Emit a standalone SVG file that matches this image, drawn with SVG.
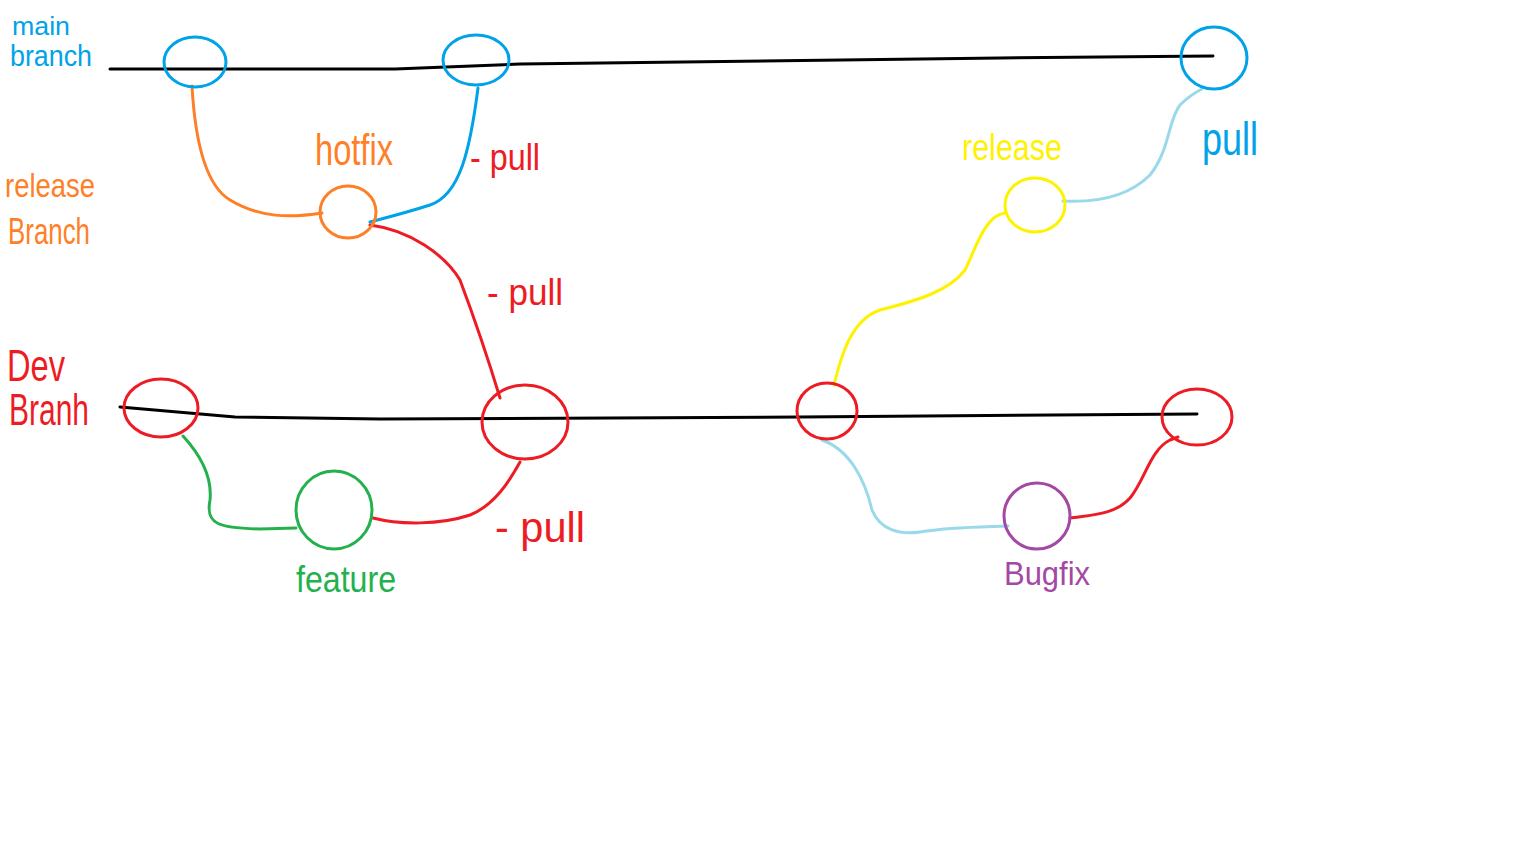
<svg xmlns="http://www.w3.org/2000/svg" width="1536" height="864" viewBox="0 0 1536 864">
<style>
.l{fill:none;stroke-width:3;stroke-linecap:round;stroke-linejoin:round}
.k{stroke:#000}
.b{stroke:#00a2e8}.o{stroke:#ff7f27}.r{stroke:#ed1c24}.g{stroke:#22b14c}.y{stroke:#fff200}.lb{stroke:#99d9ea}.p{stroke:#a349a4}
text{font-family:"Liberation Sans Narrow","Liberation Sans",sans-serif}
.tb{fill:#00a2e8}.to{fill:#ff7f27}.tr{fill:#ed1c24}.tg{fill:#22b14c}.ty{fill:#fff200}.tp{fill:#a349a4}
</style>
<rect width="1536" height="864" fill="#fff"/>
<g id="branch-lines">
<path class="l k" d="M110,69 L395,69 L520,64 L1000,58 L1213,56"/>
<path class="l k" d="M120,407 L235,417 L380,419 L800,417 L1197,414"/>
</g>
<g id="connectors">
<path class="l o" d="M192,86 C195,140 205,185 230,200 C260,218 290,218 322,213"/>
<path class="l b" d="M478,88 C470,150 460,195 430,205 C405,213 385,218 370,222"/>
<path class="l r" d="M370,225 C410,230 445,255 460,280 C475,320 490,365 500,398"/>
<path class="l g" d="M183,436 C205,460 212,480 210,500 C205,525 220,528 260,529 L296,528"/>
<path class="l r" d="M373,518 C400,525 440,525 470,515 C495,505 510,480 520,462"/>
<path class="l y" d="M834,385 C840,360 850,320 880,310 C920,300 950,290 965,270 C975,250 985,215 1005,213"/>
<path class="l lb" d="M1063,201 C1100,203 1130,195 1150,175 C1170,150 1168,120 1180,105 C1190,95 1198,91 1202,89"/>
<path class="l lb" d="M822,440 C850,450 865,480 872,510 C880,530 900,535 920,532 C950,527 980,527 1008,526"/>
<path class="l r" d="M1070,518 C1090,515 1115,515 1130,498 C1145,480 1150,450 1170,440 L1178,437"/>
</g>
<g id="main-1"><ellipse class="l b" cx="195" cy="62" rx="31" ry="25"/></g>
<g id="main-2"><ellipse class="l b" cx="476" cy="60" rx="33" ry="25"/></g>
<g id="main-3"><ellipse class="l b" cx="1214" cy="58" rx="33" ry="31"/></g>
<g id="hotfix"><ellipse class="l o" cx="348" cy="212" rx="28" ry="26"/></g>
<g id="dev-1"><ellipse class="l r" cx="161" cy="408" rx="37" ry="29"/></g>
<g id="dev-2"><ellipse class="l r" cx="525" cy="422" rx="43" ry="37"/></g>
<g id="dev-3"><ellipse class="l r" cx="827" cy="411" rx="30" ry="28"/></g>
<g id="dev-4"><ellipse class="l r" cx="1197" cy="417" rx="35" ry="28"/></g>
<g id="feature"><ellipse class="l g" cx="334" cy="510" rx="38" ry="39"/></g>
<g id="release"><ellipse class="l y" cx="1035" cy="205" rx="30" ry="27"/></g>
<g id="bugfix"><ellipse class="l p" cx="1037" cy="516" rx="33" ry="33"/></g>
<g id="labels">
<text class="tb" x="12" y="35" font-size="26" textLength="58" lengthAdjust="spacingAndGlyphs">main</text>
<text class="tb" x="10" y="66" font-size="30" textLength="82" lengthAdjust="spacingAndGlyphs">branch</text>
<text class="to" x="5" y="197" font-size="34" textLength="90" lengthAdjust="spacingAndGlyphs">release</text>
<text class="to" x="8" y="244" font-size="36" textLength="82" lengthAdjust="spacingAndGlyphs">Branch</text>
<text class="to" x="315" y="165" font-size="44" textLength="78" lengthAdjust="spacingAndGlyphs">hotfix</text>
<text class="tr" x="470" y="170" font-size="36" textLength="70" lengthAdjust="spacingAndGlyphs">- pull</text>
<text class="tr" x="487" y="305" font-size="36" textLength="76" lengthAdjust="spacingAndGlyphs">- pull</text>
<text class="tr" x="7" y="381" font-size="44" textLength="58" lengthAdjust="spacingAndGlyphs">Dev</text>
<text class="tr" x="9" y="425" font-size="44" textLength="80" lengthAdjust="spacingAndGlyphs">Branh</text>
<text class="tr" x="495" y="542" font-size="42" textLength="90" lengthAdjust="spacingAndGlyphs">- pull</text>
<text class="tg" x="296" y="592" font-size="36" textLength="100" lengthAdjust="spacingAndGlyphs">feature</text>
<text class="ty" x="962" y="160" font-size="36" textLength="100" lengthAdjust="spacingAndGlyphs">release</text>
<text class="tb" x="1202" y="155" font-size="46" textLength="56" lengthAdjust="spacingAndGlyphs">pull</text>
<text class="tp" x="1004" y="585" font-size="34" textLength="86" lengthAdjust="spacingAndGlyphs">Bugfix</text>
</g>
</svg>
